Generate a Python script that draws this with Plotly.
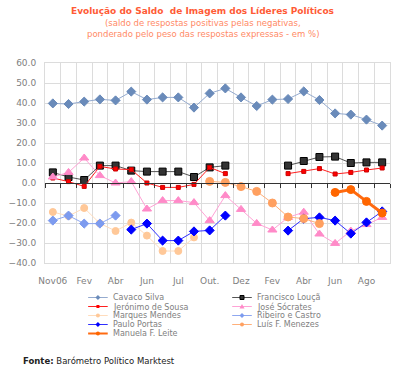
import plotly.graph_objects as go

# ---------------- data ----------------
tick_labels = ["Nov06", "Fev", "Abr", "Jun", "Jul", "Out.", "Dez", "Fev", "Abr", "Jun", "Ago"]
n_periods = 22

cavaco = [39.8, 39.5, 40.7, 41.8, 41.3, 45.7, 41.7, 42.8, 42.8, 37.7, 44.8,
          47.3, 42.8, 38.5, 41.7, 42.0, 45.8, 41.5, 34.8, 34.2, 31.7, 28.7]
louca = [5.3, 3.0, 1.5, 8.7, 8.7, 6.2, 5.7, 5.7, 5.7, 3.0, 7.8,
         8.7, None, None, None, 8.7, 11.0, 13.0, 13.2, 10.0, 10.3, 10.3]
jeronimo = [2.5, 0.7, -1.7, 8.3, 7.0, 6.7, 0.0, -2.2, -2.2, -0.7, 7.8,
            4.7, None, None, None, 4.7, 5.8, 7.2, 4.5, 5.3, 6.5, 7.5]
socrates = [3.0, 5.3, 12.5, 3.7, 0.0, 0.7, -13.0, -8.8, -8.8, -9.8, -18.8,
            -6.3, -13.2, -20.2, -23.5, -17.2, -14.6, -25.5, -30.2, -24.0, -20.8, -17.2]
marques = [-14.5, -16.5, -12.5, -20.2, -24.0, -19.8, -26.3, -34.0, -34.0, -27.2, None,
           None, None, None, None, None, None, None, None, None, None, None]
ribeiro = [-18.8, -16.3, -20.3, -20.3, -16.3, None, None, None, None, None, None,
           None, None, None, None, None, None, None, None, None, None, None]
portas = [None, None, None, None, None, -23.3, -20.3, -28.8, -28.8, -24.2, -23.7,
          -16.3, None, None, None, -23.8, -17.8, -17.2, -18.8, -25.3, -19.7, -14.2]
menezes = [None, None, None, None, None, None, None, None, None, None, 0.8,
           0.3, -1.8, -4.2, -10.0, -17.0, -17.8, -20.3, None, None, None, None]
leite = [None, None, None, None, None, None, None, None, None, None, None,
         None, None, None, None, None, None, None, -4.7, -3.3, -9.2, -15.0]

series_names = ["Cavaco Silva", "Francisco Louçã", "Jerónimo de Sousa", "José Sócrates",
                "Marques Mendes", "Ribeiro e Castro", "Paulo Portas", "Luís F. Menezes",
                "Manuela F. Leite"]
series_values = [cavaco, louca, jeronimo, socrates, marques, ribeiro, portas, menezes, leite]

# ---------------- styles ----------------
styles = [
    dict(line="#95ABCF", width=1, marker="#6A8BBA", mline="#6A8BBA", symbol="diamond", size=7),
    dict(line="#555555", width=1, marker="#333333", mline="#000000", symbol="square", size=7),
    dict(line="#FF2020", width=1, marker="#FF0000", mline="#CC0000", symbol="square", size=4),
    dict(line="#FFA3D6", width=1, marker="#FF8AC8", mline="#FF8AC8", symbol="triangle-up", size=8),
    dict(line="#FFDCBC", width=1, marker="#FFC898", mline="#FFC898", symbol="circle", size=7),
    dict(line="#8FA8F0", width=1, marker="#7D9BEF", mline="#7D9BEF", symbol="diamond", size=7),
    dict(line="#3030FF", width=1, marker="#0000FF", mline="#0000FF", symbol="diamond", size=7),
    dict(line="#FFB07A", width=1, marker="#FFA060", mline="#FFA060", symbol="circle", size=8),
    dict(line="#FF6A10", width=3, marker="#FF6600", mline="#FF6600", symbol="circle", size=8),
]

x_idx = list(range(n_periods))

fig = go.Figure()
for i, (name, vals, st) in enumerate(zip(series_names, series_values, styles)):
    fig.add_trace(go.Scatter(
        x=x_idx, y=vals, name=name, mode="lines+markers",
        xaxis="x2" if i == 0 else "x",
        line=dict(color=st["line"], width=st["width"]),
        marker=dict(color=st["marker"], symbol=st["symbol"], size=st["size"],
                    line=dict(color=st["mline"], width=1)),
        connectgaps=False, showlegend=False, hoverinfo="skip"))

# ---------------- layout geometry ----------------
W, H = 400, 369
L, R, T, B = 39, 9, 63, 106
pw, ph = W - L - R, H - T - B


def px_x(px):
    return (px - L) / pw


def px_y(py):
    return (H - B - py) / ph


grid = "#DCDCDC"
fig.update_layout(
    width=W, height=H,
    margin=dict(l=L, r=R, t=T, b=B, pad=0),
    paper_bgcolor="#FFFFFF", plot_bgcolor="#FFFFFF",
    font=dict(family="DejaVu Sans, Verdana, sans-serif", size=9, color="#808080"),
    showlegend=False,
    xaxis=dict(range=[-0.5, n_periods - 0.5], tickmode="array",
               tickvals=x_idx[::2], ticktext=tick_labels,
               showgrid=False, zeroline=False, ticks="", ticklabelstandoff=9,
               showline=True, linecolor=grid, mirror=True,
               minor=dict(tickmode="linear", tick0=-0.5, dtick=1, showgrid=True,
                          gridcolor=grid, gridwidth=1, ticks=""),
               tickfont=dict(size=9, color="#808080")),
    xaxis2=dict(matches="x", overlaying="x", anchor="free", position=0.4,
                showline=True, linecolor="#333333", linewidth=1,
                ticks="outside", ticklen=4, tickcolor="#333333",
                tickmode="linear", tick0=-0.5, dtick=1,
                showticklabels=False, showgrid=False, zeroline=False),
    yaxis=dict(range=[-40, 60], dtick=10, tick0=0, tickformat=".1f",
               showgrid=True, gridcolor=grid, gridwidth=1, zeroline=False,
               showline=True, linecolor=grid, mirror=True, ticks="",
               ticklabelstandoff=6, tickfont=dict(size=9, color="#808080")),
)

# ---------------- titles & footer ----------------
ann = [
    dict(text="<b>Evolução do Saldo  de Imagem dos Líderes Políticos</b>",
         x=px_x(200), y=px_y(11.5), font=dict(size=9, color="#FF5B36")),
    dict(text="(saldo de respostas positivas pelas negativas,",
         x=px_x(200), y=px_y(23), font=dict(size=8.5, color="#FF8A66")),
    dict(text="ponderado pelo peso das respostas expressas - em %)",
         x=px_x(200), y=px_y(34), font=dict(size=8.5, color="#FF8A66")),
]
for a in ann:
    fig.add_annotation(xref="paper", yref="paper", xanchor="center", yanchor="middle",
                       showarrow=False, **a)

fig.add_annotation(text="<b>Fonte:</b> Barómetro Político Marktest",
                   xref="paper", yref="paper", x=px_x(15), y=px_y(360.5),
                   xanchor="left", yanchor="middle", showarrow=False,
                   font=dict(size=8.5, color="#222222"))

# ---------------- legend (two columns) ----------------
col_line_x = [(83, 103), (230, 250)]
col_text_x = [106, 253]
row_y = [297.5, 306.5, 315.5, 324.5, 333.5]
for i, (name, st) in enumerate(zip(series_names, styles)):
    c, r = i % 2, i // 2
    x0, x1 = col_line_x[c]
    yy = px_y(row_y[r])
    fig.add_shape(type="line", xref="paper", yref="paper", x0=px_x(x0), x1=px_x(x1),
                  y0=yy, y1=yy, line=dict(color=st["line"], width=min(st["width"], 2)))
    xm = px_x((x0 + x1) / 2)
    s = 2 if st["size"] > 4 else 1.5
    common = dict(xref="paper", yref="paper", xsizemode="pixel", ysizemode="pixel",
                  xanchor=xm, yanchor=yy, fillcolor=st["marker"],
                  line=dict(color=st["mline"], width=1 if st["symbol"] == "square" and st["size"] > 4 else 0))
    if st["symbol"] == "square":
        fig.add_shape(type="rect", x0=-s, x1=s, y0=-s, y1=s, **common)
    elif st["symbol"] == "circle":
        fig.add_shape(type="circle", x0=-s, x1=s, y0=-s, y1=s, **common)
    elif st["symbol"] == "diamond":
        fig.add_shape(type="path", path=f"M {-s-0.5},0 L 0,{s+0.5} L {s+0.5},0 L 0,{-s-0.5} Z", **common)
    else:
        fig.add_shape(type="path", path=f"M {-s-0.5},{-s} L {s+0.5},{-s} L 0,{s+0.5} Z", **common)
    fig.add_annotation(text=name, xref="paper", yref="paper", x=px_x(col_text_x[c]), y=yy,
                       xanchor="left", yanchor="middle", showarrow=False,
                       font=dict(size=8, color="#808080"))

fig.write_html("out.html", config={"displayModeBar": False},
               post_script="document.body.style.margin='0';")
